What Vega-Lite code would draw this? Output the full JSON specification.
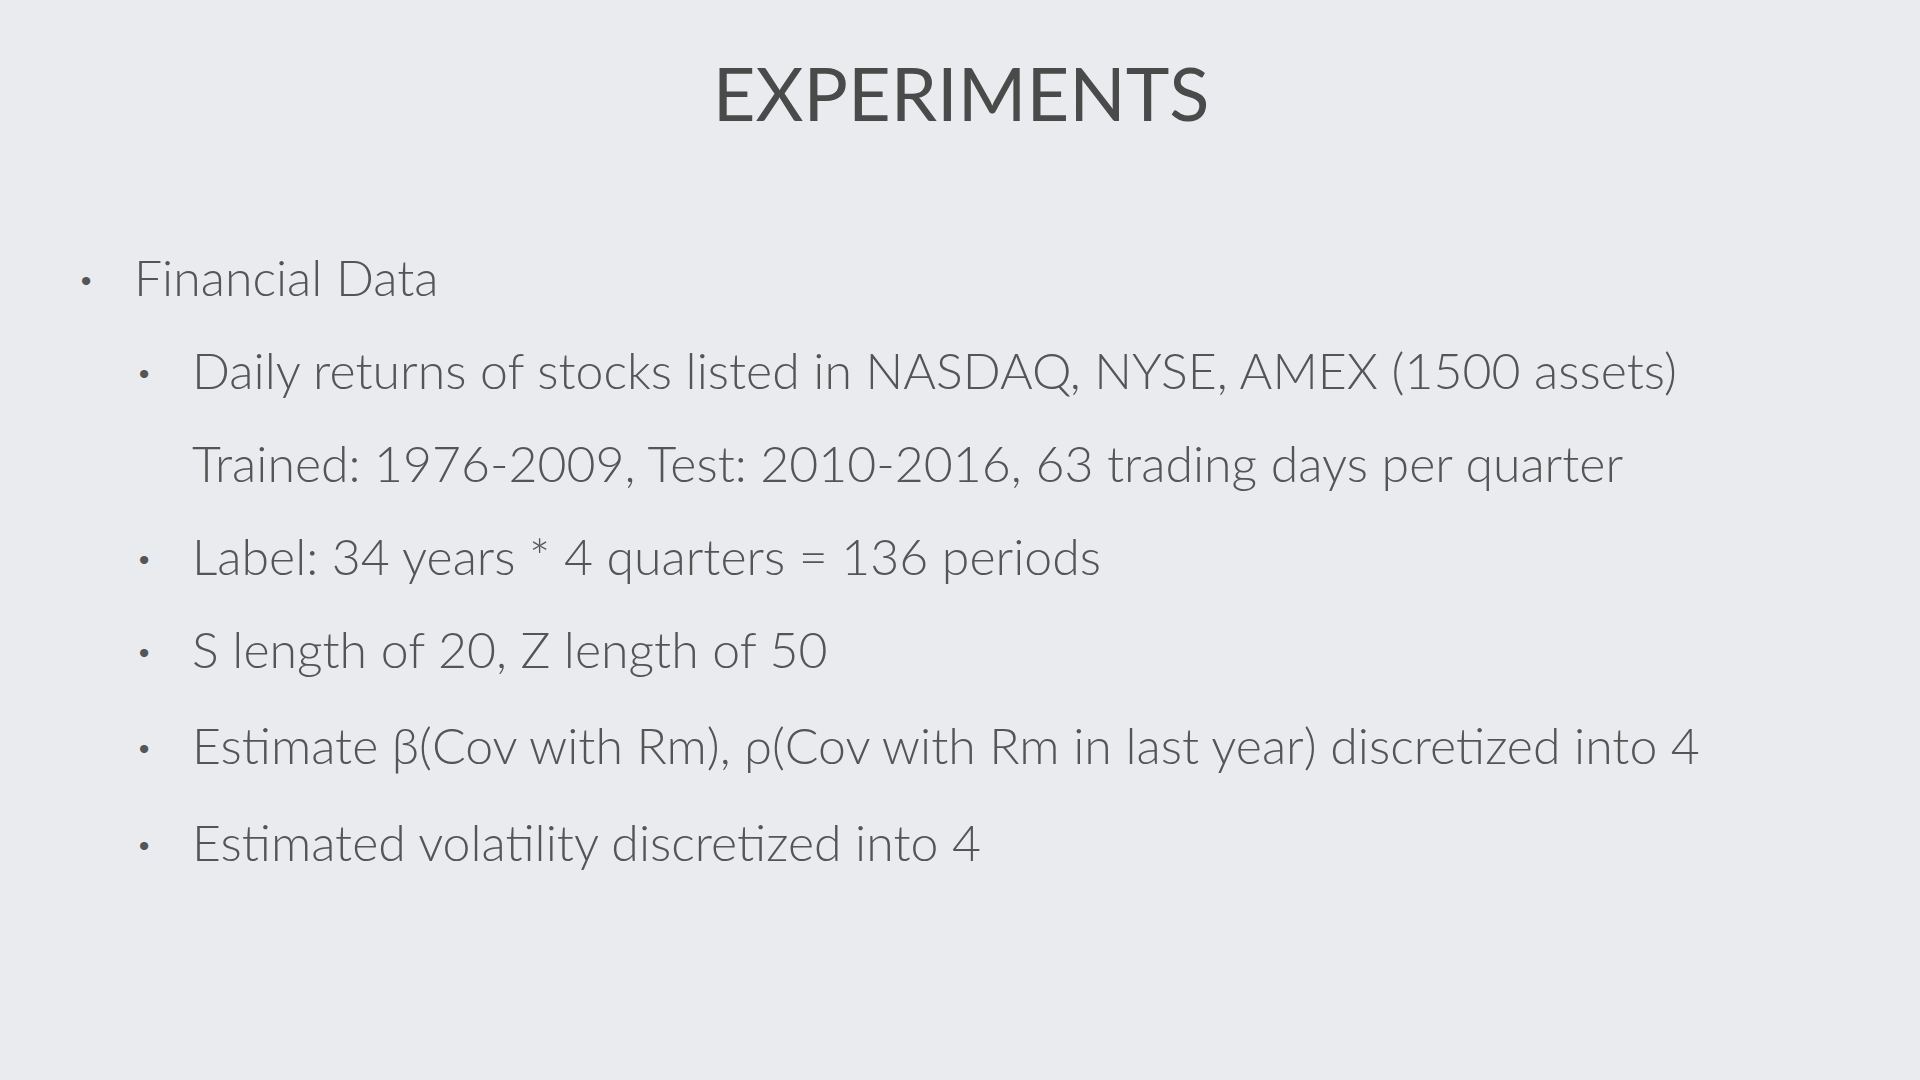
{
  "$schema": "https://vega.github.io/schema/vega-lite/v6.json",
  "width": 1920,
  "height": 1080,
  "autosize": {"type": "fit", "contains": "padding"},
  "padding": 0,
  "background": "#e9ebee",
  "config": {"view": {"stroke": null}},
  "data": {
    "values": [
      {"x": 961, "y": 99, "t": "EXPERIMENTS", "k": "title"},
      {"x": 86, "y": 281, "t": "•", "k": "bullet"},
      {"x": 134, "y": 281, "t": "Financial Data", "k": "body"},
      {"x": 144, "y": 374, "t": "•", "k": "bullet"},
      {"x": 192, "y": 374, "t": "Daily returns of stocks listed in NASDAQ, NYSE, AMEX (1500 assets)", "k": "body"},
      {"x": 192, "y": 467, "t": "Trained: 1976-2009, Test: 2010-2016, 63 trading days per quarter", "k": "body"},
      {"x": 144, "y": 560, "t": "•", "k": "bullet"},
      {"x": 192, "y": 560, "t": "Label: 34 years * 4 quarters = 136 periods", "k": "body"},
      {"x": 144, "y": 653, "t": "•", "k": "bullet"},
      {"x": 192, "y": 653, "t": "S length of 20, Z length of 50", "k": "body"},
      {"x": 144, "y": 749, "t": "•", "k": "bullet"},
      {"x": 192, "y": 749, "t": "Estimate β(Cov with Rm), ρ(Cov with Rm in last year) discretized into 4", "k": "body"},
      {"x": 144, "y": 846, "t": "•", "k": "bullet"},
      {"x": 192, "y": 846, "t": "Estimated volatility discretized into 4", "k": "body"}
    ]
  },
  "encoding": {
    "x": {"field": "x", "type": "quantitative", "scale": {"domain": [0, 1920]}, "axis": null},
    "y": {"field": "y", "type": "quantitative", "scale": {"domain": [0, 1080], "reverse": true}, "axis": null},
    "text": {"field": "t"}
  },
  "layer": [
    {
      "transform": [{"filter": "datum.k == 'title'"}],
      "mark": {"type": "text", "align": "center", "baseline": "middle", "font": "Lato", "fontSize": 74, "color": "#4a4a4a"}
    },
    {
      "transform": [{"filter": "datum.k == 'body'"}],
      "mark": {"type": "text", "align": "left", "baseline": "middle", "font": "Lato", "fontWeight": 300, "fontSize": 50, "color": "#555555"}
    },
    {
      "transform": [{"filter": "datum.k == 'bullet'"}],
      "mark": {"type": "text", "align": "center", "baseline": "middle", "font": "Lato", "fontWeight": 300, "fontSize": 28, "color": "#555555"}
    }
  ]
}
